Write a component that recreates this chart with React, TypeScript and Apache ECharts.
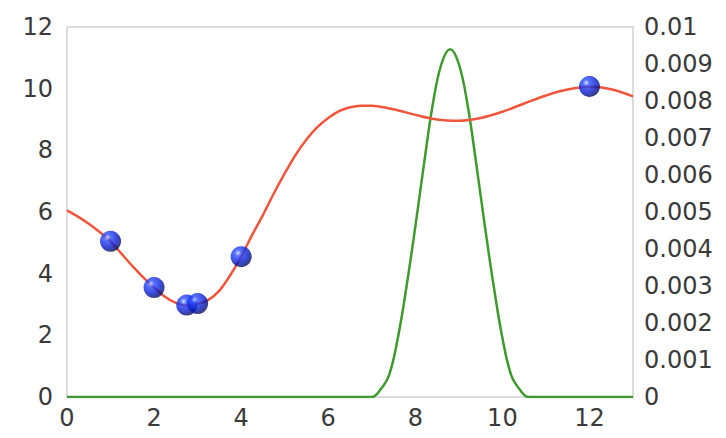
import React, { useEffect, useRef } from "react";
import * as echarts from "echarts";

// Red fitted curve (x, y) on left axis
const curveX = [0, 0.25, 0.5, 0.75, 1, 1.25, 1.5, 1.75, 2, 2.25, 2.5, 2.75, 3, 3.25, 3.5, 3.75, 4, 4.25, 4.5, 4.75, 5, 5.25, 5.5, 5.75, 6, 6.25, 6.5, 6.75, 7, 7.5, 8, 8.5, 9, 9.5, 10, 10.5, 11, 11.5, 12, 12.5, 13];
const curveY = [6.05, 5.85, 5.62, 5.35, 5.05, 4.65, 4.25, 3.88, 3.55, 3.25, 3.05, 2.97, 3.02, 3.15, 3.45, 3.95, 4.55, 5.25, 5.9, 6.6, 7.25, 7.85, 8.35, 8.75, 9.05, 9.27, 9.4, 9.45, 9.45, 9.33, 9.15, 9.0, 8.96, 9.05, 9.25, 9.52, 9.78, 9.97, 10.06, 9.98, 9.75];

// Green peak (x, y) on right axis
const peakX = [0, 6.8, 7.0, 7.2, 7.4, 7.6, 7.8, 8.0, 8.2, 8.4, 8.6, 8.8, 9.0, 9.2, 9.4, 9.6, 9.8, 10.0, 10.2, 10.4, 10.6, 10.8, 13];
const peakY = [0, 0, 0, 0.0002, 0.0006, 0.0016, 0.003, 0.0046, 0.0063, 0.0079, 0.009, 0.0094, 0.009, 0.0079, 0.0063, 0.0046, 0.003, 0.0016, 0.0006, 0.0002, 0, 0, 0];

// Observed points
const pointX = [1, 2, 2.75, 3, 4, 12];
const pointY = [5.05, 3.55, 2.98, 3.03, 4.55, 10.07];

const leftTicks = { min: 0, max: 12, interval: 2 };
const rightTicks = { min: 0, max: 0.01, interval: 0.001 };
const xTicks = { min: 0, max: 13, interval: 2 };

export default function App() {
  const ref = useRef<HTMLDivElement>(null);
  useEffect(() => {
    if (!ref.current) return;
    const chart = echarts.init(ref.current, undefined, { renderer: "svg" });
    const font = "DejaVu Sans";
    const labelStyle = { color: "#3a3a3a", fontFamily: font, fontSize: 24 };
    const sphere = new echarts.graphic.RadialGradient(0.35, 0.32, 0.75, [
      { offset: 0, color: "#d0dcff" },
      { offset: 0.2, color: "#2c50ff" },
      { offset: 0.6, color: "#0a1ed2" },
      { offset: 1, color: "#030a45" },
    ]);
    chart.setOption({
      animation: false,
      backgroundColor: "#fff",
      grid: {
        left: 67,
        right: 93,
        top: 27,
        bottom: 41,
        show: true,
        borderColor: "#dcdcdc",
        borderWidth: 2,
      },
      xAxis: {
        type: "value",
        min: xTicks.min,
        max: xTicks.max,
        interval: xTicks.interval,
        axisLine: { show: false },
        axisTick: { show: false },
        splitLine: { show: false },
        axisLabel: { ...labelStyle, margin: 9, showMaxLabel: false },
      },
      yAxis: [
        {
          type: "value",
          min: leftTicks.min,
          max: leftTicks.max,
          interval: leftTicks.interval,
          axisLine: { show: false },
          axisTick: { show: false },
          splitLine: { show: false },
          axisLabel: { ...labelStyle, margin: 14 },
        },
        {
          type: "value",
          position: "right",
          min: rightTicks.min,
          max: rightTicks.max,
          interval: rightTicks.interval,
          axisLine: { show: false },
          axisTick: { show: false },
          splitLine: { show: false },
          axisLabel: {
            ...labelStyle,
            margin: 11,
            formatter: (v: number) => String(parseFloat(v.toFixed(4))),
          },
        },
      ],
      series: [
        {
          type: "line",
          yAxisIndex: 1,
          data: peakX.map((x, i) => [x, peakY[i]]),
          smooth: 0.4,
          showSymbol: false,
          lineStyle: { color: "#3f9a2e", width: 2.5 },
          z: 2,
        },
        {
          type: "line",
          yAxisIndex: 0,
          data: curveX.map((x, i) => [x, curveY[i]]),
          smooth: 0.3,
          showSymbol: false,
          lineStyle: { color: "#f0563c", width: 2.5 },
          z: 3,
        },
        {
          type: "scatter",
          yAxisIndex: 0,
          data: pointX.map((x, i) => [x, pointY[i]]),
          symbol: "circle",
          symbolSize: 21,
          itemStyle: { color: sphere },
          z: 4,
        },
      ],
    });
    return () => chart.dispose();
  }, []);
  return (
    <div
      ref={ref}
      style={{ position: "fixed", left: 0, top: 0, width: 726, height: 438 }}
    />
  );
}
